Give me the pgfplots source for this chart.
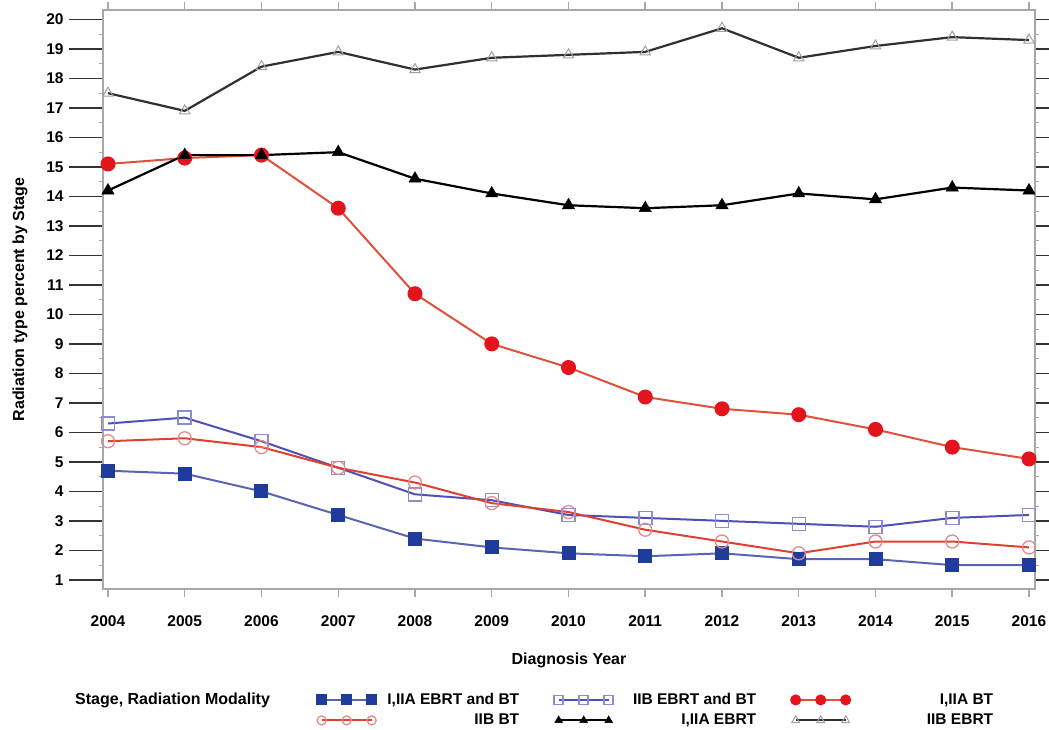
\documentclass[border=0pt]{standalone}
\usepackage{fontspec}
\setmainfont{Liberation Sans}
\usepackage{pgfplots}
\pgfplotsset{compat=1.18}
\definecolor{sqfill}{HTML}{1F3C9C}
\definecolor{sqline}{HTML}{5A64B4}
\definecolor{osqmark}{HTML}{8C8CD2}
\definecolor{osqline}{HTML}{5050B4}
\definecolor{redfill}{HTML}{E3141C}
\definecolor{redline}{HTML}{E0503A}
\definecolor{ocircmark}{HTML}{E08C8C}
\definecolor{ocircline}{HTML}{E04030}
\definecolor{trigrey}{HTML}{A0A0A0}
\definecolor{trline}{HTML}{303030}
\definecolor{framec}{HTML}{A8A8A8}
\newcommand{\lbl}[1]{\makebox[140pt][r]{#1}}
\pgfplotsset{
  common/.style={
    scale only axis, width=932pt, height=579pt,
    xmin=2003.935, xmax=2016.078, ymin=0.69, ymax=20.32,
    tick align=outside,
    axis line style={draw=framec, line width=1.6pt},
    tick label style={font=\fontsize{15.5pt}{18pt}\selectfont\bfseries},
    /pgf/number format/assume math mode=true,
    /pgf/number format/1000 sep={},
  }
}
\begin{document}
\begin{tikzpicture}
% y ticks (long)
\begin{axis}[common,
  xtick=\empty, ytick={1,...,20}, minor y tick num=1,
  major tick length=34pt, minor tick length=4pt,
  ytick style={draw=black!80, line width=1.6pt},
  minor y tick style={line width=1pt, draw=framec},
  yticklabel style={xshift=-2pt},
]
\end{axis}
\begin{axis}[common,
  clip=false,
  ytick=\empty, xtick={2004,...,2016}, minor x tick num=4,
  major tick length=8pt, minor tick length=4pt,
  xtick style={draw=framec, line width=1.4pt},
  xticklabel style={yshift=-15pt},
  xlabel={Diagnosis Year}, ylabel={Radiation type percent by Stage},
  label style={font=\fontsize{16pt}{19pt}\selectfont\bfseries},
  xlabel style={at={(axis description cs:0.5,-0.1226)}, anchor=center},
  ylabel style={at={(axis description cs:-0.089,0.5)}, anchor=center},
  legend columns=3,
  legend cell align=right,
  legend image code/.code={\draw[mark repeat=1,mark phase=1,#1,mark size=4.5pt] plot coordinates {(0pt,0pt) (25pt,0pt) (50pt,0pt)};},
  legend style={at={(axis description cs:0.2296,-0.209)}, anchor=west, draw=none, fill=none,
    inner sep=0pt, row sep=2pt, font=\fontsize{15.5pt}{18pt}\selectfont\bfseries,
    nodes={inner sep=3pt},
    /tikz/every even column/.append style={column sep=32pt}},
]
\addplot[sqline, line width=2pt, mark=square*, mark size=6pt, mark options={solid, fill=sqfill, draw=sqfill}] coordinates {
(2004,4.7) (2005,4.6) (2006,4.0) (2007,3.2) (2008,2.4) (2009,2.1) (2010,1.9) (2011,1.8) (2012,1.9) (2013,1.7) (2014,1.7) (2015,1.5) (2016,1.5)};
\addlegendentry{\lbl{I,IIA EBRT and BT}}
\addplot[osqline, line width=2pt, mark=square, mark size=6.5pt, mark options={solid, draw=osqmark, line width=1.5pt}] coordinates {
(2004,6.3) (2005,6.5) (2006,5.7) (2007,4.8) (2008,3.9) (2009,3.7) (2010,3.2) (2011,3.1) (2012,3.0) (2013,2.9) (2014,2.8) (2015,3.1) (2016,3.2)};
\addlegendentry{\lbl{IIB EBRT and BT}}
\addplot[redline, line width=2pt, mark=*, mark size=6.5pt, mark options={solid, fill=redfill, draw=redfill}] coordinates {
(2004,15.1) (2005,15.3) (2006,15.4) (2007,13.6) (2008,10.7) (2009,9.0) (2010,8.2) (2011,7.2) (2012,6.8) (2013,6.6) (2014,6.1) (2015,5.5) (2016,5.1)};
\addlegendentry{\lbl{I,IIA BT}}
\addplot[ocircline, line width=2pt, mark=o, mark size=6.5pt, mark options={solid, draw=ocircmark, line width=1.3pt}] coordinates {
(2004,5.7) (2005,5.8) (2006,5.5) (2007,4.8) (2008,4.3) (2009,3.6) (2010,3.3) (2011,2.7) (2012,2.3) (2013,1.9) (2014,2.3) (2015,2.3) (2016,2.1)};
\addlegendentry{\lbl{IIB BT}}
\addplot[black, line width=2.2pt, mark=triangle*, mark size=7pt, mark options={solid, fill=black, draw=black, line width=0.5pt}] coordinates {
(2004,14.2) (2005,15.4) (2006,15.4) (2007,15.5) (2008,14.6) (2009,14.1) (2010,13.7) (2011,13.6) (2012,13.7) (2013,14.1) (2014,13.9) (2015,14.3) (2016,14.2)};
\addlegendentry{\lbl{I,IIA EBRT}}
\addplot[trline, line width=2.2pt, mark=triangle, mark size=6pt, mark options={solid, draw=trigrey, line width=1pt}] coordinates {
(2004,17.5) (2005,16.9) (2006,18.4) (2007,18.9) (2008,18.3) (2009,18.7) (2010,18.8) (2011,18.9) (2012,19.7) (2013,18.7) (2014,19.1) (2015,19.4) (2016,19.3)};
\addlegendentry{\lbl{IIB EBRT}}
\node[anchor=west, inner sep=0pt, font=\fontsize{16pt}{19pt}\selectfont\bfseries] at (axis description cs:-0.030,-0.1917) {Stage, Radiation Modality};
\end{axis}
\pgfresetboundingbox
\useasboundingbox (current axis.south west) ++(-103pt,-141pt) rectangle ([xshift=14pt,yshift=10pt]current axis.north east);
\end{tikzpicture}
\end{document}
